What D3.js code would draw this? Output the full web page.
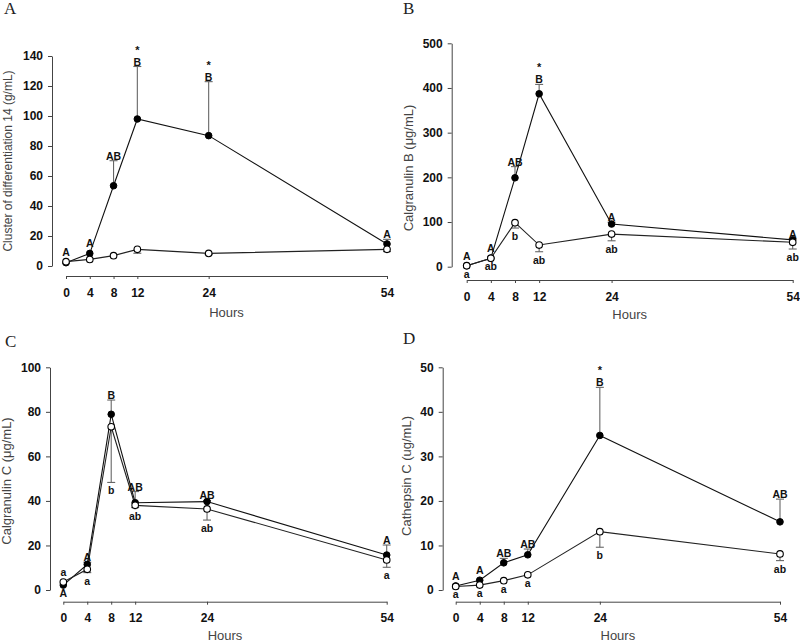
<!DOCTYPE html>
<html><head><meta charset="utf-8">
<script src="https://cdn.jsdelivr.net/npm/d3@7"></script>
<style>body{margin:0;background:#fff}svg{display:block}</style>
</head><body>
<script>
// ---------- DATA ----------
const hours = [0, 4, 8, 12, 24, 54];

// Panel A: Cluster of differentiation 14
const cd14Treated    = [2.2, 8.4, 53.5, 98, 86.9, 14.7];
const cd14TreatedErr = [0, 0, 16.7, 35, 36, 3.1];
const cd14Control    = [2.9, 4.4, 6.9, 11.1, 8.4, 11.1];
const cd14ControlErr = [0, 0, 0, 2.6, 0.8, 1.5];
const cd14Upper = ["A", "A", "AB", "B", "B", "A"];
const cd14Lower = ["", "", "", "", "", ""];
const cd14Star  = [false, false, false, true, true, false];
const cd14Ticks = [0, 20, 40, 60, 80, 100, 120, 140];

// Panel B: Calgranulin B
const calBTreated    = [2, 19, 199, 387, 95.5, 60];
const calBTreatedErr = [0, 0, 25, 21, 4, 3];
const calBControl    = [2.2, 19, 98.5, 48.5, 73, 54.6];
const calBControlErr = [0, 0, 12, 15, 15, 15];
const calBUpper = ["A", "A", "AB", "B", "A", "A"];
const calBLower = ["a", "ab", "b", "ab", "ab", "ab"];
const calBStar  = [false, false, false, true, false, false];
const calBTicks = [0, 100, 200, 300, 400, 500];

// Panel C: Calgranulin C
const calCTreated    = [2.2, 11.5, 78.9, 39.2, 39.7, 15.7];
const calCTreatedErr = [0, 1, 6.4, 5, 0.5, 4.5];
const calCControl    = [3.6, 9.3, 73.3, 38, 36.4, 13.5];
const calCControlErr = [0, 1.5, 25, 1, 5, 3.3];
const calCUpper = ["a", "A", "B", "AB", "AB", "A"];
const calCLower = ["A", "a", "b", "ab", "ab", "a"];
const calCStar  = [false, false, false, false, false, false];
const calCTicks = [0, 20, 40, 60, 80, 100];

// Panel D: Cathepsin C
const cathTreated    = [0.9, 2.2, 6.1, 7.9, 34.7, 15.3];
const cathTreatedErr = [0, 0, 1, 1.3, 10.8, 5.1];
const cathControl    = [0.8, 1.1, 2.1, 3.4, 13.1, 8.1];
const cathControlErr = [0, 0, 0, 0, 3.5, 1.5];
const cathUpper = ["A", "A", "AB", "AB", "B", "AB"];
const cathLower = ["a", "a", "a", "a", "b", "ab"];
const cathStar  = [false, false, false, false, true, false];
const cathTicks = [0, 10, 20, 30, 40, 50];

// ---------- LAYOUT ----------
const W = 800, H = 643;
const svg = d3.select("body").append("svg").attr("width", W).attr("height", H)
  .style("font-family", "Arial, 'Liberation Sans', sans-serif");

const panels = [
  {letter: "A", lx: 4, ly: 14, yLabel: "Cluster of differentiation 14  (g/mL)", yLabelSize: 12, yLabelX: 8, yLabelY: 161,
   x0: 66, x1: 387, yBot: 266, yTop: 56, yMax: 140, axisX: 52, axisY: 276, hoursDy: 41,
   treated: cd14Treated, tErr: cd14TreatedErr, control: cd14Control, cErr: cd14ControlErr,
   upper: cd14Upper, lower: cd14Lower, star: cd14Star, ticks: cd14Ticks},
  {letter: "B", lx: 403, ly: 14, yLabel: "Calgranulin B (\u03bcg/mL)", yLabelSize: 13, yLabelX: 408, yLabelY: 168,
   x0: 466.7, x1: 792.7, yBot: 266.7, yTop: 43.3, yMax: 500, axisX: 451.7, axisY: 280, hoursDy: 39,
   treated: calBTreated, tErr: calBTreatedErr, control: calBControl, cErr: calBControlErr,
   upper: calBUpper, lower: calBLower, star: calBStar, ticks: calBTicks},
  {letter: "C", lx: 5, ly: 347, yLabel: "Calgranulin C (\u03bcg/mL)", yLabelSize: 13, yLabelX: 6, yLabelY: 481,
   x0: 63.3, x1: 386.7, yBot: 590, yTop: 367.3, yMax: 100, axisX: 50, axisY: 601.7, hoursDy: 38,
   treated: calCTreated, tErr: calCTreatedErr, control: calCControl, cErr: calCControlErr,
   upper: calCUpper, lower: calCLower, star: calCStar, ticks: calCTicks},
  {letter: "D", lx: 403, ly: 344, yLabel: "Cathepsin C (ug/mL)", yLabelSize: 13, yLabelX: 406, yLabelY: 476,
   x0: 455.7, x1: 780, yBot: 590, yTop: 367.3, yMax: 50, axisX: 442.7, axisY: 601.7, hoursDy: 38,
   treated: cathTreated, tErr: cathTreatedErr, control: cathControl, cErr: cathControlErr,
   upper: cathUpper, lower: cathLower, star: cathStar, ticks: cathTicks}
];

panels.forEach(p => {
  const g = svg.append("g");
  const x = d3.scaleLinear().domain([0, 54]).range([p.x0, p.x1]);
  const y = d3.scaleLinear().domain([0, p.yMax]).range([p.yBot, p.yTop]);

  // panel letter
  g.append("text").attr("x", p.lx).attr("y", p.ly)
    .style("font-family", "'Times New Roman', 'Liberation Serif', serif")
    .style("font-size", "17px").attr("fill", "#222").text(p.letter);

  // y axis
  const ya = g.append("g").attr("transform", `translate(${p.axisX},0)`)
    .call(d3.axisLeft(y).tickValues(p.ticks).tickSize(4).tickPadding(5).tickSizeOuter(0));
  ya.select(".domain").attr("stroke", "#444");
  ya.selectAll(".tick line").attr("stroke", "#444");
  ya.selectAll("text").style("font-size", "12px").style("font-weight", "bold").attr("fill", "#111")
    .style("font-family", "Arial, 'Liberation Sans', sans-serif");

  // x axis
  const xa = g.append("g").attr("transform", `translate(0,${p.axisY})`)
    .call(d3.axisBottom(x).tickValues(hours).tickSize(3).tickPadding(9).tickSizeOuter(0));
  xa.select(".domain").attr("stroke", "#444");
  xa.selectAll(".tick line").attr("stroke", "#444");
  xa.selectAll("text").style("font-size", "12px").style("font-weight", "bold").attr("fill", "#111")
    .style("font-family", "Arial, 'Liberation Sans', sans-serif");

  // axis titles
  g.append("text").attr("x", (p.x0 + p.x1) / 2).attr("y", p.axisY + p.hoursDy)
    .attr("text-anchor", "middle").style("font-size", "13px").attr("fill", "#444").text("Hours");
  g.append("text")
    .attr("transform", `translate(${p.yLabelX},${p.yLabelY}) rotate(-90)`)
    .attr("text-anchor", "middle").attr("dy", "0.35em")
    .style("font-size", p.yLabelSize + "px").attr("fill", "#444").text(p.yLabel);

  const tData = hours.map((h, i) => ({h, v: p.treated[i], e: p.tErr[i]}));
  const cData = hours.map((h, i) => ({h, v: p.control[i], e: p.cErr[i]}));
  const line = d3.line().x(d => x(d.h)).y(d => y(d.v));

  // error bars (treated up, control down)
  const errG = g.append("g").attr("stroke", "#666").attr("stroke-width", 1.1);
  tData.filter(d => d.e > 0).forEach(d => {
    errG.append("line").attr("x1", x(d.h)).attr("x2", x(d.h)).attr("y1", y(d.v)).attr("y2", y(d.v + d.e));
    errG.append("line").attr("x1", x(d.h) - 4).attr("x2", x(d.h) + 4).attr("y1", y(d.v + d.e)).attr("y2", y(d.v + d.e));
  });
  cData.filter(d => d.e > 0).forEach(d => {
    errG.append("line").attr("x1", x(d.h)).attr("x2", x(d.h)).attr("y1", y(d.v)).attr("y2", y(d.v - d.e));
    errG.append("line").attr("x1", x(d.h) - 4).attr("x2", x(d.h) + 4).attr("y1", y(d.v - d.e)).attr("y2", y(d.v - d.e));
  });

  // lines
  g.append("path").datum(tData).attr("d", line).attr("fill", "none").attr("stroke", "#111").attr("stroke-width", 1.1);
  g.append("path").datum(cData).attr("d", line).attr("fill", "none").attr("stroke", "#222").attr("stroke-width", 1.1);

  // markers
  g.selectAll(".tpt").data(tData).enter().append("circle")
    .attr("cx", d => x(d.h)).attr("cy", d => y(d.v)).attr("r", 3.3)
    .attr("fill", "#000").attr("stroke", "#000").attr("stroke-width", 1);
  g.selectAll(".cpt").data(cData).enter().append("circle")
    .attr("cx", d => x(d.h)).attr("cy", d => y(d.v)).attr("r", 3.3)
    .attr("fill", "#fff").attr("stroke", "#000").attr("stroke-width", 1.1);

  // significance letters
  const lg = g.append("g").style("font-size", "10.5px").style("font-weight", "bold")
    .attr("fill", "#111").attr("text-anchor", "middle");
  hours.forEach((h, i) => {
    const tTop = tData[i].v + tData[i].e;
    const cTop = cData[i].v;
    const topVal = Math.max(tTop, cTop);
    const hasErr = tData[i].e > 0 && tTop >= cTop;
    const upY = hasErr ? y(topVal) - 1 : y(topVal) - 6;
    if (p.upper[i]) lg.append("text").attr("x", x(h)).attr("y", upY).text(p.upper[i]);
    if (p.star[i]) lg.append("text").attr("x", x(h)).attr("y", upY - 12)
      .style("font-size", "11px").text("*");
    const botVal = Math.min(tData[i].v, cData[i].v - cData[i].e);
    if (p.lower[i]) lg.append("text").attr("x", x(h)).attr("y", y(botVal) + 12).text(p.lower[i]);
  });
});
</script>
</body></html>
